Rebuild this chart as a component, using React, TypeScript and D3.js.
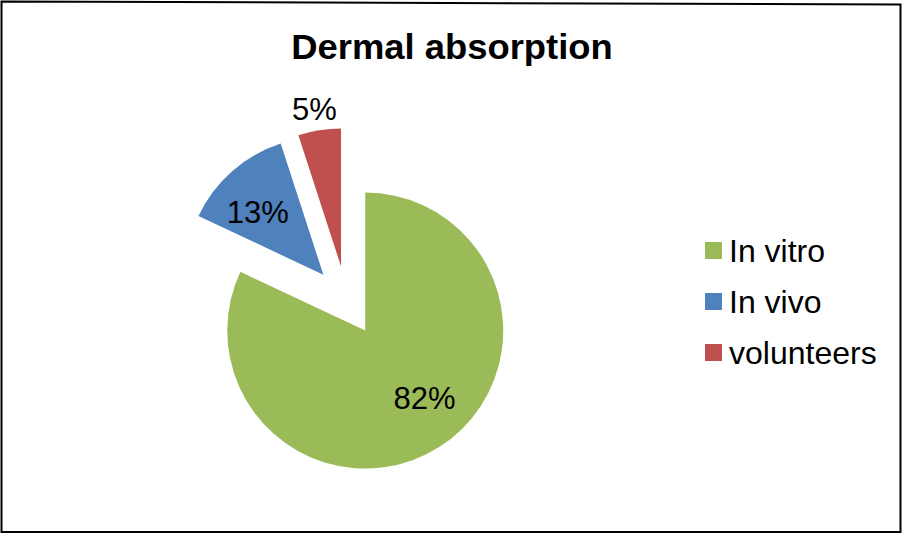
import React from "react";
import * as d3 from "d3";

// Share of dermal absorption studies by method
const categories = ["In vitro", "In vivo", "volunteers"];
const shares = [82, 13, 5];
const colors = ["#9BBB59", "#4F81BD", "#C0504D"];

const W = 902;
const H = 534;
const FONT = "'Liberation Sans', Arial, Helvetica, sans-serif";

// pie geometry
const cx = 346.5;
const cy = 301;
const radius = 138;
const explode = 35;
// label placement: distance from slice apex (fraction of radius) and angular nudge
const labelDist = [0.65, 0.66, 1.16];
const labelNudge = [-9, -4.7, -0.6];

export default function App() {
  const pie = d3
    .pie<number>()
    .sort(null)
    .value((d) => d)
    .startAngle(0)
    .endAngle(2 * Math.PI);
  const arcs = pie(shares);
  const arc = d3.arc<d3.PieArcDatum<number>>().innerRadius(0).outerRadius(radius);
  const total = d3.sum(shares);

  const legendY = d3.scalePoint<string>().domain(categories).range([250.5, 352.5]);

  return (
    <svg
      width={W}
      height={H}
      style={{ position: "absolute", left: 0, top: 0, background: "#fff" }}
      fontFamily={FONT}
    >
      <rect x={0} y={0} width={W} height={H} fill="#fff" />
      <path
        d="M1.5,1.5 L900.5,4.5 L900.5,532 L1.5,532 Z"
        fill="none"
        stroke="#000"
        strokeWidth={2}
      />

      <text
        transform="translate(452,59) scale(1.04,1)"
        textAnchor="middle"
        fontSize={35}
        fontWeight="bold"
        fill="#000"
      >
        Dermal absorption
      </text>

      {arcs.map((a, i) => {
        const mid = (a.startAngle + a.endAngle) / 2;
        const ox = cx + explode * Math.sin(mid);
        const oy = cy - explode * Math.cos(mid);
        const la = mid + (labelNudge[i] * Math.PI) / 180;
        const lr = labelDist[i] * radius;
        const lx = ox + lr * Math.sin(la);
        const ly = oy - lr * Math.cos(la);
        const pct = Math.round((a.data / total) * 100);
        return (
          <g key={categories[i]}>
            <path d={arc(a) || ""} transform={`translate(${ox},${oy})`} fill={colors[i]} />
            <text
              x={lx}
              y={ly + 11}
              textAnchor="middle"
              fontSize={31}
              fill="#000"
            >
              {pct}%
            </text>
          </g>
        );
      })}

      {categories.map((c, i) => {
        const y = legendY(c) as number;
        return (
          <g key={c}>
            <rect x={705} y={y - 8.5} width={17} height={17} fill={colors[i]} />
            <text x={729} y={y + 11} fontSize={32} fill="#000">
              {c}
            </text>
          </g>
        );
      })}
    </svg>
  );
}
